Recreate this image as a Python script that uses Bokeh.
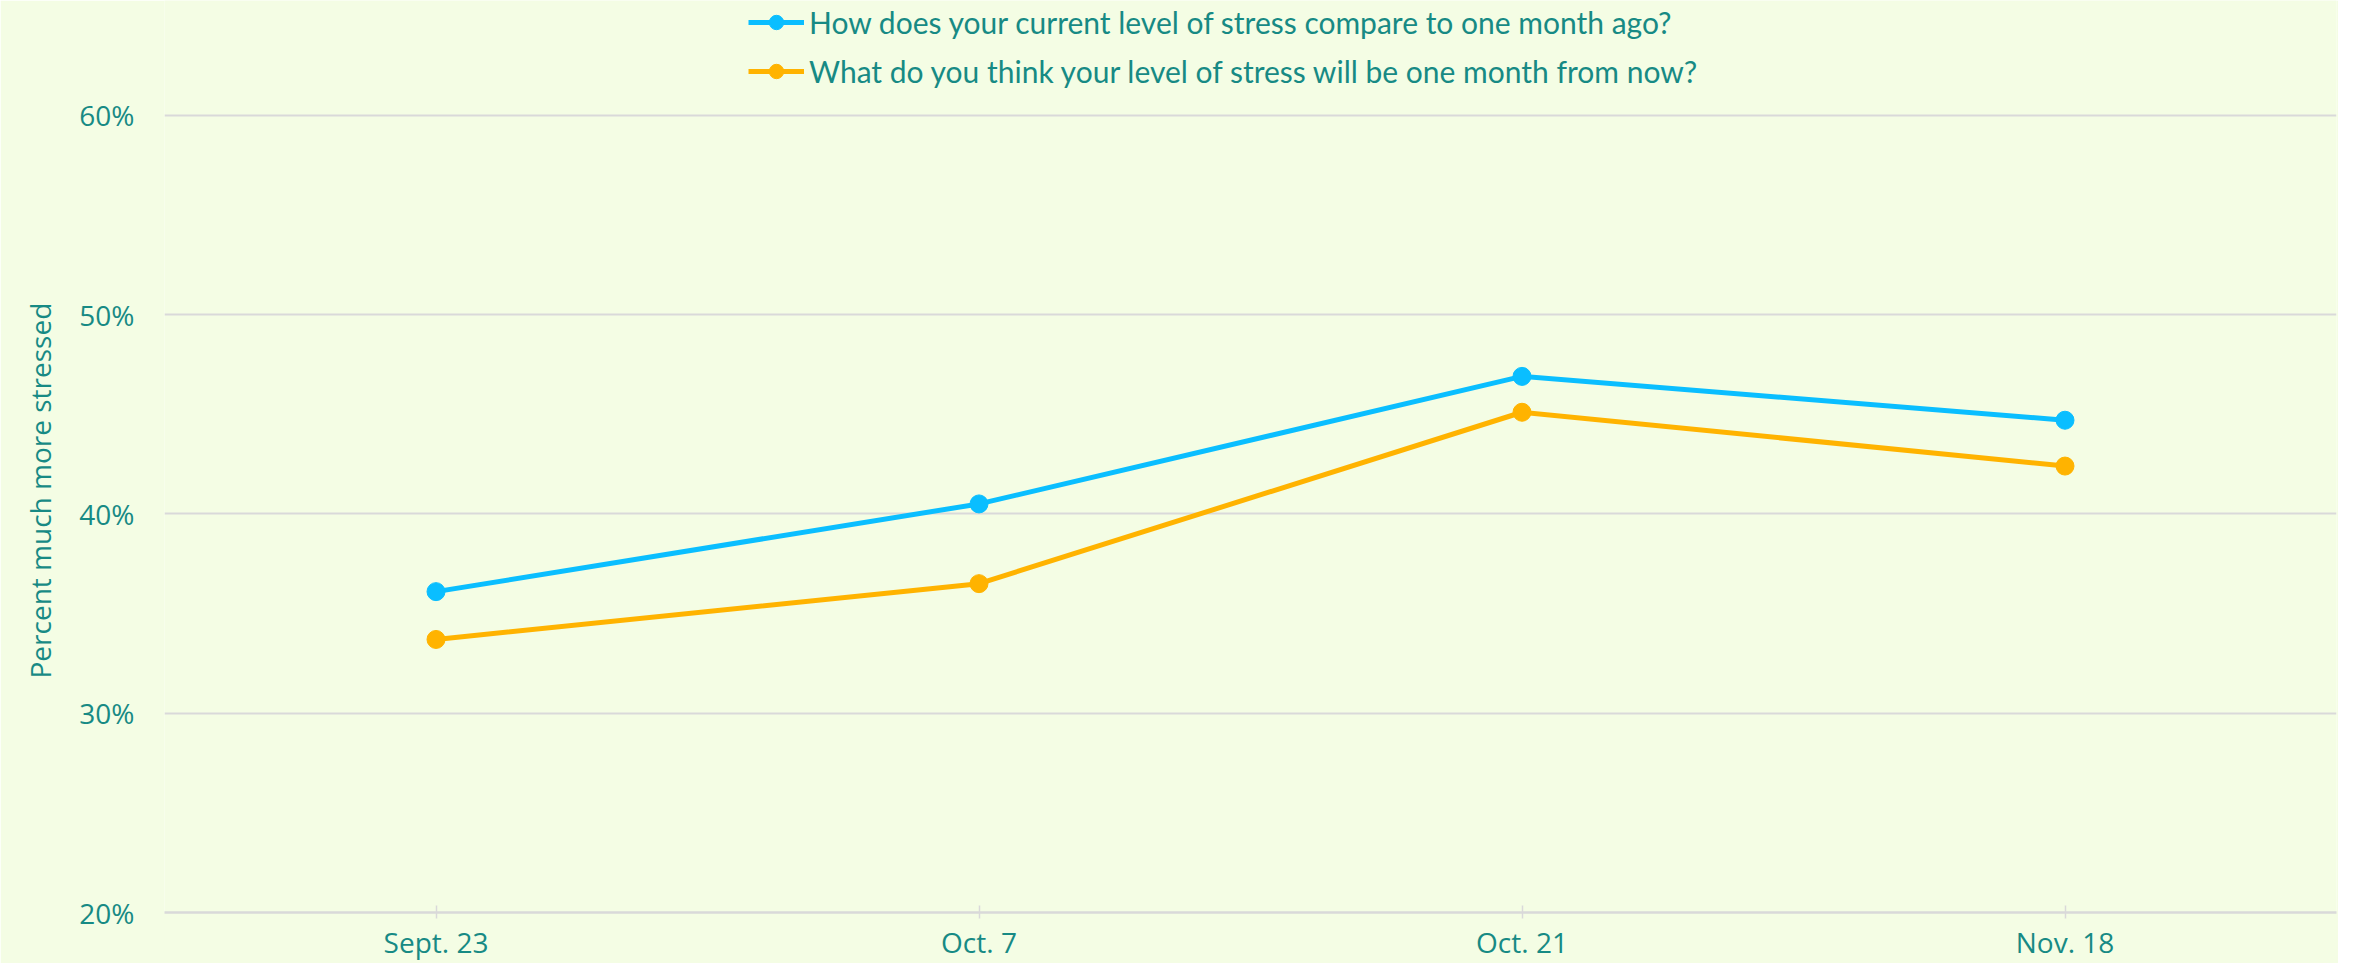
from bokeh.plotting import figure
from bokeh.models import Legend, LegendItem, FactorRange, FixedTicker, CustomJSTickFormatter, Title
from bokeh.embed import file_html
from bokeh.resources import INLINE

categories = ["Sept. 23", "Oct. 7", "Oct. 21", "Nov. 18"]
current_vs_month_ago = [36.1, 40.5, 46.9, 44.7]
expected_next_month = [33.7, 36.5, 45.1, 42.4]
series_labels = [
    "How does your current level of stress compare to one month ago?",
    "What do you think your level of stress will be one month from now?",
]
y_ticks = [20, 30, 40, 50, 60]
y_label = "Percent much more stressed"

BG = "#F4FDE4"
TEAL = "#178A84"
BLUE = "#0ABEFF"
ORANGE = "#FFB300"
GRID = "#D9D9D9"

H = 963
BOTTOM = 51
frame_h = H - BOTTOM

p = figure(
    width=2338, height=H,
    x_range=FactorRange(*categories),
    y_range=(20, 65.76),
    output_backend="svg", toolbar_location=None,
    background_fill_color=BG, border_fill_color=BG,
    min_border_left=163, min_border_right=2,
    min_border_top=0, min_border_bottom=BOTTOM,
)
p.outline_line_color = None

r1l = p.line(categories, current_vs_month_ago, line_color=BLUE, line_width=5)
r1s = p.scatter(categories, current_vs_month_ago, size=18, fill_color=BLUE, line_color=BLUE)
r2l = p.line(categories, expected_next_month, line_color=ORANGE, line_width=5)
r2s = p.scatter(categories, expected_next_month, size=18, fill_color=ORANGE, line_color=ORANGE)

# y axis
p.yaxis.ticker = FixedTicker(ticks=y_ticks)
p.yaxis.formatter = CustomJSTickFormatter(code="return tick + '%';")
p.yaxis.axis_line_color = None
p.yaxis.major_tick_line_color = None
p.yaxis.minor_tick_line_color = None
p.yaxis.major_tick_in = 0
p.yaxis.major_tick_out = 0
p.yaxis.minor_tick_in = 0
p.yaxis.minor_tick_out = 0
p.yaxis.axis_label_standoff = 0
p.yaxis.major_label_standoff = 30
p.yaxis.major_label_text_font = "Open Sans"
p.yaxis.major_label_text_font_size = "28px"
p.yaxis.major_label_text_color = TEAL

p.add_layout(Title(text=y_label, align="left", offset=234, standoff=36,
                   text_font="Open Sans", text_font_size="28px",
                   text_font_style="normal", text_color=TEAL), "left")

p.ygrid.grid_line_color = GRID
p.ygrid.grid_line_width = 2
p.xgrid.grid_line_color = None

# x axis
p.xaxis.axis_line_color = GRID
p.xaxis.axis_line_width = 2.5
p.xaxis.major_tick_line_color = GRID
p.xaxis.major_tick_line_width = 1.5
p.xaxis.major_tick_in = 7
p.xaxis.major_tick_out = 6
p.xaxis.axis_label_standoff = 0
p.xaxis.major_label_standoff = 4
p.xaxis.major_label_text_font = "Open Sans"
p.xaxis.major_label_text_font_size = "28px"
p.xaxis.major_label_text_color = TEAL

legend = Legend(
    items=[
        LegendItem(label=series_labels[0], renderers=[r1l, r1s]),
        LegendItem(label=series_labels[1], renderers=[r2l, r2s]),
    ],
    orientation="vertical",
    location=(584, frame_h - 89),
    background_fill_alpha=0,
    border_line_color=None,
    label_text_font="Lato",
    label_text_font_size="30px",
    label_text_color=TEAL,
    glyph_width=56,
    glyph_height=36,
    label_height=36,
    label_standoff=5,
    spacing=13,
    padding=0,
    margin=0,
)
p.add_layout(legend, "center")

open("out.html", "w").write(file_html(p, INLINE))
